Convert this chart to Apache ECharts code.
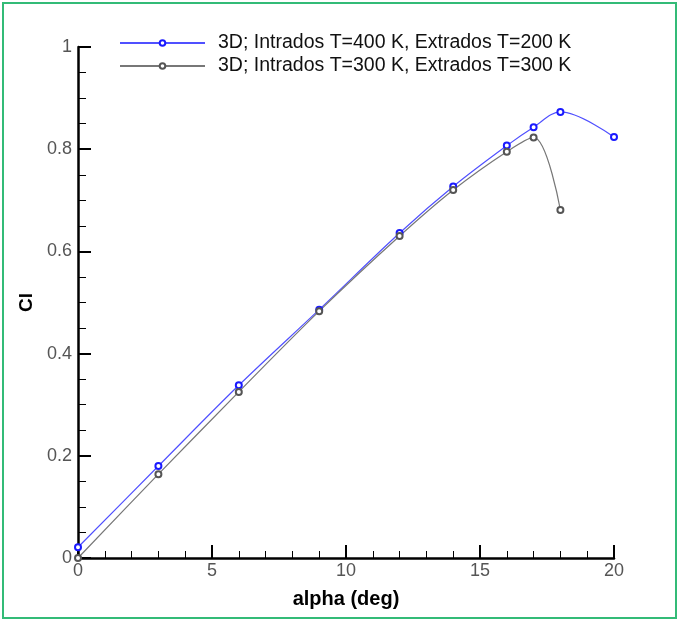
<!DOCTYPE html>
<html>
<head>
<meta charset="utf-8">
<script src="https://cdn.jsdelivr.net/npm/echarts@6/dist/echarts.min.js"></script>
<style>
html,body{margin:0;padding:0;background:#fff;}
#frame{position:absolute;left:2px;top:2px;width:671px;height:613px;border:2px solid #33bb77;}
#chart{position:absolute;left:0;top:0;width:679px;height:621px;}
</style>
</head>
<body>
<div id="frame"></div>
<div id="chart"></div>
<script>
const seriesNames = ['3D; Intrados T=400 K, Extrados T=200 K', '3D; Intrados T=300 K, Extrados T=300 K'];
const alphaHot = [0, 3, 6, 9, 12, 14, 16, 17, 18, 20];
const clHot = [0.021, 0.180, 0.338, 0.486, 0.636, 0.727, 0.807, 0.843, 0.873, 0.824];
const alphaRef = [0, 3, 6, 9, 12, 14, 16, 17, 18];
const clRef = [0.000, 0.164, 0.325, 0.483, 0.630, 0.720, 0.795, 0.823, 0.681];
const xTicks = [0, 5, 10, 15, 20];
const yTicks = [0, 0.2, 0.4, 0.6, 0.8, 1];

const FONT = 'Liberation Sans, Arial, sans-serif';
const chart = echarts.init(document.getElementById('chart'));
const labelFont = {fontFamily: FONT, fontSize: 18, color: '#555'};
chart.setOption({
  animation: false,
  grid: {left: 78, right: 65, top: 47, bottom: 63},
  legend: {
    left: 119, top: 33, orient: 'vertical', padding: 0,
    itemWidth: 85, itemHeight: 7, itemGap: 3,
    textStyle: {fontFamily: FONT, fontSize: 19.5, color: '#111', lineHeight: 19, padding: [0, 0, 0, 8]},
    data: seriesNames
  },
  xAxis: {
    type: 'value', min: xTicks[0], max: xTicks[xTicks.length - 1], interval: 5,
    name: 'alpha (deg)', nameLocation: 'middle', nameGap: 31,
    nameTextStyle: {fontFamily: FONT, fontSize: 20, fontWeight: 'bold', color: '#000'},
    axisLine: {show: true, lineStyle: {color: '#000', width: 2.5}},
    axisTick: {inside: true, length: 13, lineStyle: {color: '#000', width: 2}},
    minorTick: {show: true, splitNumber: 5, length: 7, lineStyle: {color: '#000', width: 1}},
    axisLabel: Object.assign({margin: 4}, labelFont),
    splitLine: {show: false}
  },
  yAxis: {
    type: 'value', min: yTicks[0], max: yTicks[yTicks.length - 1], interval: 0.2,
    name: 'Cl', nameLocation: 'middle', nameGap: 41, nameRotate: 90,
    nameTextStyle: {fontFamily: FONT, fontSize: 19, fontWeight: 'bold', color: '#000'},
    axisLine: {show: true, lineStyle: {color: '#000', width: 2.5}},
    axisTick: {inside: true, length: 13, lineStyle: {color: '#000', width: 2}},
    minorTick: {show: true, splitNumber: 4, length: 8, lineStyle: {color: '#000', width: 1}},
    axisLabel: Object.assign({margin: 6, formatter: v => String(+v.toFixed(2))}, labelFont),
    splitLine: {show: false}
  },
  series: [
    {
      name: seriesNames[0], type: 'line', smooth: 0.35,
      data: alphaHot.map((a, i) => [a, clHot[i]]),
      symbol: 'circle', symbolSize: 6, showAllSymbol: true,
      lineStyle: {color: '#5050ff', width: 1.2},
      itemStyle: {color: '#fff', borderColor: '#1a1aff', borderWidth: 2}
    },
    {
      name: seriesNames[1], type: 'line', smooth: 0.35,
      data: alphaRef.map((a, i) => [a, clRef[i]]),
      symbol: 'circle', symbolSize: 6, showAllSymbol: true,
      lineStyle: {color: '#777', width: 1.2},
      itemStyle: {color: '#fff', borderColor: '#555', borderWidth: 2}
    }
  ]
});
</script>
</body>
</html>
